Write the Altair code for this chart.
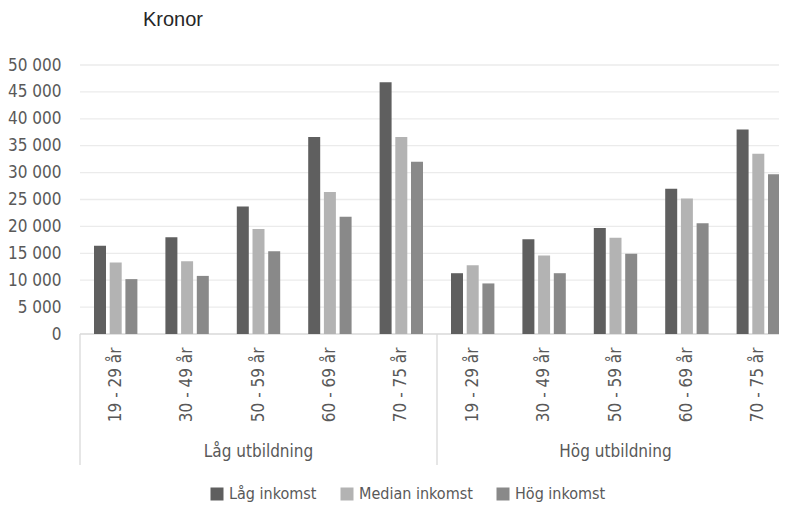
import altair as alt
import pandas as pd

groups = ["Låg utbildning", "Hög utbildning"]
ages = ["19 - 29 år", "30 - 49 år", "50 - 59 år", "60 - 69 år", "70 - 75 år"]
series = ["Låg inkomst", "Median inkomst", "Hög inkomst"]

lag_inkomst = [16400, 18000, 23700, 36600, 46800, 11300, 17600, 19700, 27000, 38000]
median_inkomst = [13300, 13500, 19500, 26400, 36600, 12800, 14600, 17900, 25200, 33500]
hog_inkomst = [10200, 10800, 15400, 21800, 32000, 9400, 11300, 14900, 20600, 29700]

y_ticks = [0, 5000, 10000, 15000, 20000, 25000, 30000, 35000, 40000, 45000, 50000]
colors = ["#5f5f5f", "#b3b3b3", "#898989"]

FONT = "DejaVu Sans Condensed, sans-serif"
FS = 17
TXT = "#595959"

keys = [f"{g}|{a}" for g in groups for a in ages]

rows = []
for s, vals in zip(series, [lag_inkomst, median_inkomst, hog_inkomst]):
    for k, v in zip(keys, vals):
        rows.append({"key": k, "serie": s, "value": v})
df = pd.DataFrame(rows)

xscale = alt.Scale(domain=keys, range=[0, 714], paddingInner=0.325, paddingOuter=0.1625)
yscale = alt.Scale(domain=[0, 50000], nice=False)

xaxis = alt.Axis(title=None, labelAngle=-90,
                 labelExpr="split(datum.label, '|')[1]",
                 ticks=False, tickSize=0, domain=False, grid=False, labelPadding=13,
                 labelFontSize=FS, labelFont=FONT, labelColor=TXT)
yaxis = alt.Axis(title=None, values=y_ticks,
                 labelExpr="replace(format(datum.value, ','), ',', ' ')",
                 ticks=False, domain=False, grid=False, labelPadding=19,
                 labelFontSize=FS, labelFont=FONT, labelColor=TXT)

grid = alt.Chart(pd.DataFrame({"value": y_ticks[1:]})).mark_rule(
    color="#ebebeb", strokeWidth=1.3
).encode(
    y=alt.Y("value:Q", scale=yscale, axis=yaxis),
    x=alt.value(0), x2=alt.value(714),
)

base = alt.Chart(pd.DataFrame({"value": [0]})).mark_rule(
    color="#d9d9d9", strokeWidth=1.3
).encode(
    y=alt.Y("value:Q", scale=yscale, axis=yaxis),
    x=alt.value(0), x2=alt.value(714),
)

bars = alt.Chart(df).mark_bar().encode(
    x=alt.X("key:N", scale=xscale, sort=keys, axis=xaxis),
    xOffset=alt.XOffset("serie:N", sort=series,
                        scale=alt.Scale(domain=series, paddingInner=0.236, paddingOuter=0.153)),
    y=alt.Y("value:Q", scale=yscale, axis=yaxis),
    color=alt.Color("serie:N", sort=series,
                    scale=alt.Scale(domain=series, range=colors),
                    legend=alt.Legend(orient="none", legendX=129, legendY=421,
                                      direction="horizontal", title=None,
                                      symbolType="square", symbolSize=169,
                                      symbolStrokeWidth=0,
                                      labelFontSize=16, labelFont=FONT, labelColor=TXT,
                                      columnPadding=22, labelOffset=4, padding=0)),
)

sep = alt.Chart(pd.DataFrame({"key": [keys[0], keys[5]]})).mark_rule(
    color="#d9d9d9", strokeWidth=1.3, xOffset=-11.6
).encode(
    x=alt.X("key:N", scale=xscale, sort=keys, bandPosition=0, axis=xaxis),
    y=alt.value(269), y2=alt.value(400),
)

glabels = alt.Chart(pd.DataFrame({"key": [keys[2], keys[7]], "label": groups})).mark_text(
    font=FONT, fontSize=FS, color=TXT, align="center", baseline="alphabetic"
).encode(
    x=alt.X("key:N", scale=xscale, sort=keys, axis=xaxis),
    y=alt.value(392),
    text="label:N",
)

title = alt.Chart(pd.DataFrame({"t": ["Kronor"]})).mark_text(
    font="Liberation Sans, Arial, sans-serif", fontSize=20, color="#262626",
    align="left", baseline="alphabetic"
).encode(x=alt.value(63), y=alt.value(-39), text="t:N")

chart = alt.layer(grid, base, bars, sep, glabels, title).properties(
    width=699, height=269,
    autosize=alt.AutoSizeParams(type="none"),
    padding={"left": 72, "top": 57, "right": 0, "bottom": 168},
).configure_view(stroke=None)

chart.save("out.html", embed_options={"renderer": "svg", "actions": False})
